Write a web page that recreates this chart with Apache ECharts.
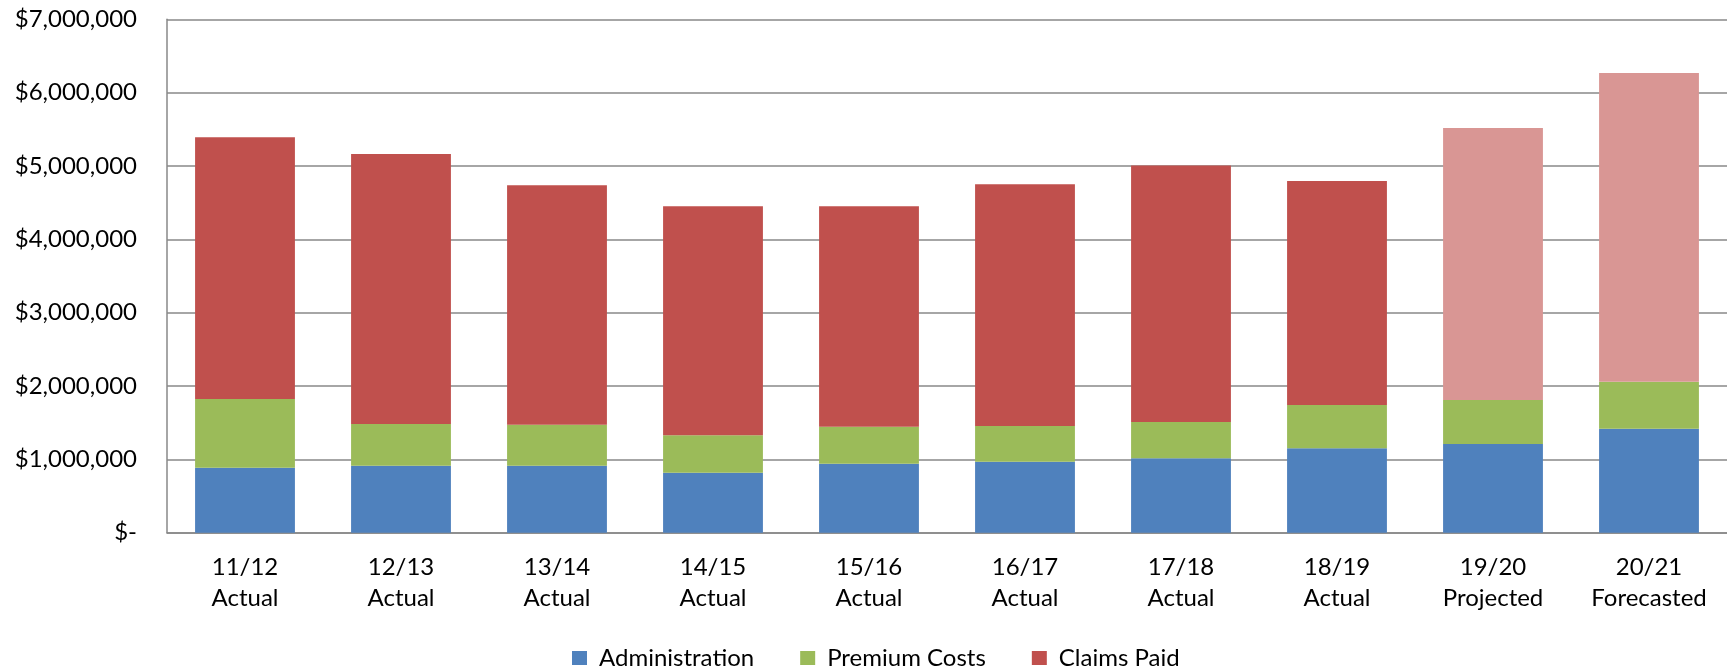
<!DOCTYPE html>
<html>
<head>
<meta charset="utf-8">
<script src="https://cdn.jsdelivr.net/npm/echarts@6/dist/echarts.min.js"></script>
<style>
  html, body { margin: 0; padding: 0; background: #fff; }
  #chart { width: 1727px; height: 671px; }
</style>
</head>
<body>
<div id="chart"></div>
<script>
// ---- data ----
const periods = ['11/12', '12/13', '13/14', '14/15', '15/16', '16/17', '17/18', '18/19', '19/20', '20/21'];
const statuses = ['Actual', 'Actual', 'Actual', 'Actual', 'Actual', 'Actual', 'Actual', 'Actual', 'Projected', 'Forecasted'];
const administration = [887000, 914000, 914000, 818000, 939000, 968000, 1014000, 1151000, 1210000, 1418000];
const premiumCosts = [936000, 568000, 559000, 510000, 507000, 487000, 496000, 590000, 600000, 641000];
const claimsPaid = [3569000, 3682000, 3264000, 3123000, 3004000, 3296000, 3495000, 3055000, 3709000, 4210000];
const seriesNames = ['Administration', 'Premium Costs', 'Claims Paid'];
const yMin = 0, yMax = 7000000, yStep = 1000000;

// ---- styles ----
const COLORS = { admin: '#4F81BD', premium: '#9BBB59', claims: '#C0504D', claimsEstimate: '#D99694' };
const FONT = 'Lato, "Open Sans", sans-serif';
const FS = 24;

const categories = periods.map((p, i) => p + '\n' + statuses[i]);
const claimsData = claimsPaid.map((v, i) => statuses[i] === 'Actual'
  ? v : { value: v, itemStyle: { color: COLORS.claimsEstimate } });

const chart = echarts.init(document.getElementById('chart'), null, { renderer: 'canvas' });
chart.setOption({
  animation: false,
  backgroundColor: '#fff',
  textStyle: { fontFamily: FONT },
  grid: { left: 167, right: 0, top: 19.3, bottom: 138.3, containLabel: false },
  legend: {
    data: seriesNames,
    left: 567, top: 641,
    itemWidth: 15, itemHeight: 14, itemGap: 46,
    icon: 'rect',
    textStyle: { fontFamily: FONT, fontSize: FS, color: '#000', lineHeight: 23, padding: [0, 0, 0, 7] }
  },
  xAxis: {
    type: 'category',
    data: categories,
    axisLine: { lineStyle: { color: '#888', width: 1.5 } },
    axisTick: { show: false },
    axisLabel: { color: '#000', fontFamily: FONT, fontSize: FS, lineHeight: 31, margin: 19, interval: 0 }
  },
  yAxis: {
    type: 'value',
    min: yMin, max: yMax, interval: yStep,
    axisLine: { show: true, lineStyle: { color: '#888', width: 1.5 } },
    axisTick: { show: false },
    splitLine: { lineStyle: { color: '#888', width: 1.5 } },
    axisLabel: {
      color: '#000', fontFamily: FONT, fontSize: FS, margin: 30,
      formatter: v => v === 0 ? '$-' : '$' + v.toLocaleString('en-US')
    }
  },
  series: [
    { name: seriesNames[0], type: 'bar', stack: 'total', data: administration, barWidth: '64%',
      itemStyle: { color: COLORS.admin } },
    { name: seriesNames[1], type: 'bar', stack: 'total', data: premiumCosts, barWidth: '64%',
      itemStyle: { color: COLORS.premium } },
    { name: seriesNames[2], type: 'bar', stack: 'total', data: claimsData, barWidth: '64%',
      itemStyle: { color: COLORS.claims } }
  ]
});
</script>
</body>
</html>
